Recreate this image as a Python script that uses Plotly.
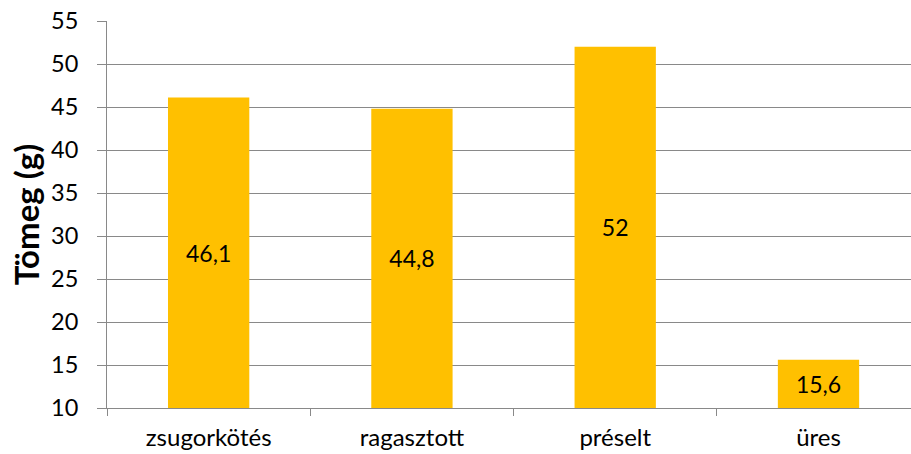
import plotly.graph_objects as go

categories = ["zsugorkötés", "ragasztott", "préselt", "üres"]
values = [46.1, 44.8, 52, 15.6]
y_ticks = [10, 15, 20, 25, 30, 35, 40, 45, 50, 55]
y_min, y_max = 10, 55
y_title = "Tömeg (g)"

labels = [("%g" % v).replace(".", ",") for v in values]

FONT = "Lato"
GRID = "#898989"

fig = go.Figure(go.Bar(
    x=categories, y=[v - y_min for v in values], base=y_min,
    marker=dict(color="#FFC000", line=dict(width=0)),
    text=labels, textposition="inside", insidetextanchor="middle",
    textfont=dict(family=FONT, size=23, color="#000000"),
    hoverinfo="skip",
))

fig.update_layout(
    width=911, height=454,
    margin=dict(l=107, r=0, t=21, b=46, pad=0),
    paper_bgcolor="white", plot_bgcolor="white",
    bargap=0.6, showlegend=False,
    font=dict(family=FONT, size=23, color="#000000"),
    uniformtext=dict(mode=False),
)
fig.update_xaxes(
    type="category", range=[-0.5, 3.455],
    showline=True, linecolor=GRID, linewidth=1,
    ticks="outside", tickson="boundaries", ticklen=7, tickcolor=GRID, tickwidth=1,
    showgrid=False, tickfont=dict(family=FONT, size=24, color="#000000"),
    ticklabelstandoff=8,
)
fig.update_yaxes(
    range=[y_min, y_max], tickvals=y_ticks,
    showline=True, linecolor=GRID, linewidth=1,
    showgrid=True, gridcolor=GRID, gridwidth=1,
    ticks="outside", ticklen=9, tickcolor=GRID, tickwidth=1,
    tickfont=dict(family=FONT, size=23.5, color="#000000"),
    ticklabelstandoff=14,
    title=dict(text="<b>" + y_title + "</b>", font=dict(family=FONT, size=33, color="#000000"), standoff=1),
    zeroline=False,
)

fig.write_html("out.html")
